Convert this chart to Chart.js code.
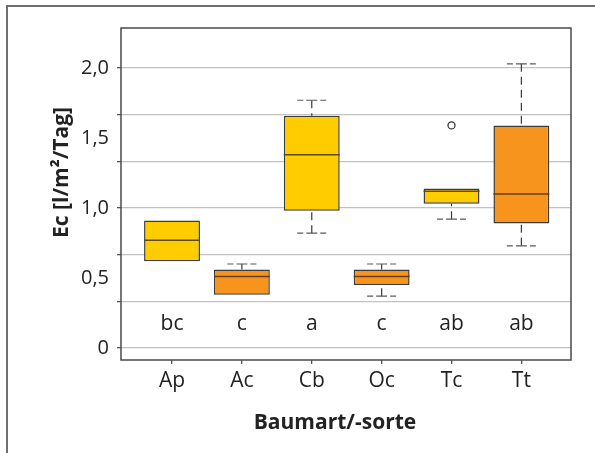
<!DOCTYPE html>
<html>
<head>
<meta charset="utf-8">
<script src="https://cdn.jsdelivr.net/npm/chart.js@4.4.1/dist/chart.umd.min.js"></script>
<style>
  html, body { margin: 0; padding: 0; background: #fff; }
  #wrap { position: relative; width: 595px; height: 453px; overflow: hidden; }
  #frame { position: absolute; left: 6px; top: 5px; width: 700px; height: 600px;
           border-left: 2px solid #6f6f6f; border-top: 2px solid #6f6f6f; }
  #chart { position: absolute; left: 0; top: 0; }
</style>
</head>
<body>
<div id="wrap">
  <div id="frame"></div>
  <canvas id="chart" width="595" height="453"></canvas>
</div>
<script>
"use strict";

// box plot values (Ec in l/m²/Tag)
const species = ["Ap", "Ac", "Cb", "Oc", "Tc", "Tt"];
const whiskerLow = [0.62, 0.38, 0.82, 0.37, 0.92, 0.73];
const quart1 = [0.62, 0.38, 0.98, 0.45, 1.03, 0.89];
const median = [0.77, 0.51, 1.38, 0.51, 1.12, 1.10];
const quart3 = [0.91, 0.56, 1.66, 0.56, 1.14, 1.59];
const whiskerHigh = [0.91, 0.60, 1.77, 0.60, 1.14, 2.03];
const outliers = [{ x: 5, y: 1.59 }]; // Tc
const letters = ["bc", "c", "a", "c", "ab", "ab"];
const letterLevel = 0.13;

// y axis: grid lines every 1/3, labels every 0.5
const gridValues = [0, 1 / 3, 2 / 3, 1, 4 / 3, 5 / 3, 2];
const labelValues = [0, 0.5, 1, 1.5, 2];

const yellow = "#ffcc00";
const orange = "#f7941d";
const boxColors = [yellow, orange, yellow, orange, yellow, orange];

const FONT = "'Open Sans', 'Noto Sans', sans-serif";

const near = (a, b) => Math.abs(a - b) < 1e-6;
const isGrid = v => gridValues.some(g => near(g, v));
const isLabel = v => labelValues.some(l => near(l, v));

// frame around plot area + axis titles
const frameBox = {
  id: "frameBox",
  afterDraw(chart) {
    const { ctx, chartArea: a } = chart;
    ctx.save();
    ctx.strokeStyle = "#4a4a4a";
    ctx.lineWidth = 1.5;
    ctx.strokeRect(a.left, a.top, a.right - a.left, a.bottom - a.top);

    ctx.fillStyle = "#222";
    ctx.font = "bold 21px " + FONT;
    ctx.textAlign = "center";
    ctx.textBaseline = "alphabetic";
    ctx.fillText("Baumart/-sorte", 335, 428.5);

    ctx.translate(68, 172.5);
    ctx.rotate(-Math.PI / 2);
    ctx.fillText("Ec [l/m²/Tag]", 0, 0);
    ctx.restore();
  },
};

// whiskers, medians and letters
const boxExtras = {
  id: "boxExtras",
  beforeDatasetsDraw(chart) {
    const { ctx, scales } = chart;
    const x = scales.x, y = scales.y;
    ctx.save();
    ctx.lineWidth = 1.2;
    species.forEach((s, i) => {
      const px = x.getPixelForValue(i + 1);
      if (whiskerHigh[i] > quart3[i]) {
        ctx.strokeStyle = "#3a3a3a";
        ctx.setLineDash([8, 5]);
        ctx.beginPath();
        ctx.moveTo(px, y.getPixelForValue(whiskerHigh[i]));
        ctx.lineTo(px, y.getPixelForValue(quart3[i]));
        ctx.stroke();
        cap(ctx, px, y.getPixelForValue(whiskerHigh[i]));
      }
      if (whiskerLow[i] < quart1[i]) {
        ctx.strokeStyle = "#3a3a3a";
        ctx.setLineDash([8, 5]);
        ctx.beginPath();
        ctx.moveTo(px, y.getPixelForValue(whiskerLow[i]));
        ctx.lineTo(px, y.getPixelForValue(quart1[i]));
        ctx.stroke();
        cap(ctx, px, y.getPixelForValue(whiskerLow[i]));
      }
    });
    ctx.restore();

    ctx.save();
    ctx.fillStyle = "#222";
    ctx.font = "21px " + FONT;
    ctx.textAlign = "center";
    ctx.textBaseline = "alphabetic";
    letters.forEach((t, i) => {
      ctx.fillText(t, x.getPixelForValue(i + 1), y.getPixelForValue(letterLevel));
    });
    ctx.restore();
  },
  afterDatasetsDraw(chart) {
    const { ctx, scales } = chart;
    const meta = chart.getDatasetMeta(0);
    ctx.save();
    ctx.lineWidth = 1.5;
    median.forEach((m, i) => {
      const bar = meta.data[i];
      const py = scales.y.getPixelForValue(m);
      ctx.strokeStyle = boxColors[i] === orange ? "#6a3d0c" : "#5a4a10";
      ctx.beginPath();
      ctx.moveTo(bar.x - bar.width / 2, py);
      ctx.lineTo(bar.x + bar.width / 2, py);
      ctx.stroke();
    });
    ctx.restore();
  },
};

function cap(ctx, px, py) {
  ctx.strokeStyle = "#5a5a5a";
  ctx.setLineDash([5.5, 3, 6, 100]);
  ctx.beginPath();
  ctx.moveTo(px, py);
  ctx.lineTo(px - 16, py);
  ctx.moveTo(px, py);
  ctx.lineTo(px + 16, py);
  ctx.stroke();
}

new Chart(document.getElementById("chart"), {
  type: "bar",
  data: {
    datasets: [
      {
        type: "bar",
        data: species.map((s, i) => ({ x: i + 1, y: [quart1[i], quart3[i]] })),
        backgroundColor: boxColors,
        borderColor: "#3c3c3c",
        borderWidth: 1.5,
        borderSkipped: false,
        categoryPercentage: 0.8,
        barPercentage: 1.0,
      },
      {
        type: "scatter",
        data: outliers,
        pointStyle: "circle",
        pointRadius: 3.5,
        borderColor: "#333",
        backgroundColor: "#fff",
        borderWidth: 1.3,
      },
    ],
  },
  options: {
    responsive: false,
    animation: false,
    layout: { padding: { left: 42, top: 28, right: 24, bottom: 15 } },
    plugins: {
      legend: { display: false },
      tooltip: { enabled: false },
    },
    scales: {
      x: {
        type: "linear",
        min: 0.27,
        max: 6.71,
        offset: false,
        afterBuildTicks: s => { s.ticks = species.map((n, i) => ({ value: i + 1 })); },
        afterFit: s => { s.height = 453 - 360 - 15; },
        ticks: {
          autoSkip: false,
          maxRotation: 0,
          padding: 4,
          color: "#222",
          font: { family: FONT, size: 21 },
          callback: v => species[Math.round(v) - 1],
        },
        grid: { offset: false, drawOnChartArea: false, tickLength: 4, tickColor: "#555", lineWidth: 1.3 },
        border: { display: false },
      },
      y: {
        type: "linear",
        min: -0.0857,
        max: 2.286,
        afterBuildTicks: s => {
          const vals = gridValues.concat(labelValues.filter(v => !isGrid(v))).sort((a, b) => a - b);
          s.ticks = vals.map(v => ({ value: v }));
        },
        afterFit: s => { s.width = 121 - 42; },
        ticks: {
          autoSkip: false,
          padding: 8,
          color: "#222",
          font: { family: FONT, size: 20 },
          callback: v => (isLabel(v) ? (near(v, 0) ? "0" : v.toFixed(1).replace(".", ",")) : ""),
        },
        grid: {
          color: c => (isGrid(c.tick.value) ? "#c2c2c2" : "rgba(0,0,0,0)"),
          tickColor: c => (isGrid(c.tick.value) ? "#555" : "rgba(0,0,0,0)"),
          tickLength: 4,
          lineWidth: 1.3,
        },
        border: { display: false },
      },
    },
  },
  plugins: [frameBox, boxExtras],
});
</script>
</body>
</html>
